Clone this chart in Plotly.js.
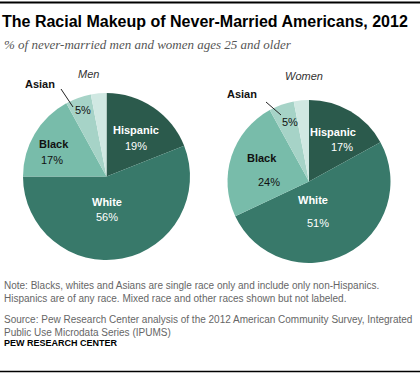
<!DOCTYPE html>
<html>
<head>
<meta charset="utf-8">
<script src="https://cdn.plot.ly/plotly-3.0.1.min.js"></script>
<style>
html,body{margin:0;padding:0;background:#fff;}
#chart{width:420px;height:376px;}
</style>
</head>
<body>
<div id="chart"></div>
<script>
// ---- data ----
const categories = ['Hispanic', 'White', 'Black', 'Asian', 'Other'];
const menValues = [19, 56, 17, 5, 3];
const womenValues = [17, 51, 24, 5, 3];
const groupLabels = ['Men', 'Women'];
const sliceColors = ['#2b5a4c', '#38796a', '#78bcaa', '#a6d3c7', '#d0e8e2'];

const W = 420, H = 376;
const px = x => x / W;
const py = y => 1 - y / H;

const sans = 'Arial, Liberation Sans, sans-serif';

function pie(values, name, x0, x1, y0, y1) {
  return {
    type: 'pie', name: name, labels: categories, values: values,
    sort: false, direction: 'clockwise', rotation: 0,
    marker: {colors: sliceColors, line: {width: 0}},
    textinfo: 'none', hoverinfo: 'label+percent',
    showlegend: false,
    domain: {x: [px(x0), px(x1)], y: [py(y1), py(y0)]}
  };
}

const data = [
  pie(menValues, groupLabels[0], 23, 190, 93, 260),
  pie(womenValues, groupLabels[1], 227.5, 390.5, 100, 263)
];

function ann(text, x, y, opts) {
  return Object.assign({
    text: text, x: px(x), y: py(y), xref: 'paper', yref: 'paper',
    xanchor: 'center', yanchor: 'middle', showarrow: false,
    font: {family: sans, size: 11, color: '#ffffff'}
  }, opts || {});
}
const bold = s => '<b>' + s + '</b>';
const pct = v => v + '%';
const dark = {family: sans, size: 11, color: '#111111'};

const annotations = [
  // subtitle
  ann('<i>% of never-married men and women ages 25 and older</i>', 2, 45,
      {xanchor: 'left', font: {family: 'Liberation Serif, Georgia, serif', size: 13, color: '#555555'}}),
  // group labels
  ann('<i>' + groupLabels[0] + '</i>', 88, 74, {font: {family: sans, size: 11, color: '#333333'}}),
  ann('<i>' + groupLabels[1] + '</i>', 304, 76, {font: {family: sans, size: 11, color: '#333333'}}),
  // Men
  ann(bold(categories[0]), 136, 130),
  ann(pct(menValues[0]), 136, 146),
  ann(bold(categories[1]), 107, 201.5),
  ann(pct(menValues[1]), 107, 216.5),
  ann(bold(categories[2]), 54, 144, {font: dark}),
  ann(pct(menValues[2]), 52, 160, {font: dark}),
  ann(bold(categories[3]), 40, 84, {font: dark}),
  ann(pct(menValues[3]), 83, 110, {font: dark}),
  // Women
  ann(bold(categories[0]), 333, 132),
  ann(pct(womenValues[0]), 342, 146.5),
  ann(bold(categories[1]), 313, 200),
  ann(pct(womenValues[1]), 318, 223),
  ann(bold(categories[2]), 262, 158, {font: dark}),
  ann(pct(womenValues[2]), 269, 182, {font: dark}),
  ann(bold(categories[3]), 242, 94, {font: dark}),
  ann(pct(womenValues[3]), 290, 122, {font: dark}),
  // notes
  ann('Note: Blacks, whites and Asians are single race only and include only non-Hispanics.<br>Hispanics are of any race. Mixed race and other races shown but not labeled.',
      2, 292, {xanchor: 'left', align: 'left', font: {family: sans, size: 10, color: '#666666'}}),
  ann('Source: Pew Research Center analysis of the 2012 American Community Survey, Integrated<br>Public Use Microdata Series (IPUMS)',
      2, 325.5, {xanchor: 'left', align: 'left', font: {family: sans, size: 10, color: '#666666'}}),
  ann('<b>PEW RESEARCH CENTER</b>', 2, 343, {xanchor: 'left', font: {family: sans, size: 9, color: '#000000'}})
];

const shapes = [
  {type: 'line', xref: 'paper', yref: 'paper', x0: 0, x1: 1, y0: py(2.5), y1: py(2.5), line: {color: '#000', width: 2}},
  {type: 'line', xref: 'paper', yref: 'paper', x0: 0, x1: 1, y0: py(371.5), y1: py(371.5), line: {color: '#000', width: 1.5}},
  {type: 'line', xref: 'paper', yref: 'paper', x0: px(61), x1: px(73), y0: py(89), y1: py(107), line: {color: '#222', width: 1}},
  {type: 'line', xref: 'paper', yref: 'paper', x0: px(266), x1: px(281), y0: py(102), y1: py(115), line: {color: '#222', width: 1}}
];

const layout = {
  width: W, height: H,
  margin: {l: 0, r: 0, t: 0, b: 0},
  paper_bgcolor: '#ffffff', plot_bgcolor: '#ffffff',
  title: {
    text: '<b>The Racial Makeup of Never-Married Americans, 2012</b>',
    x: px(2), xanchor: 'left', xref: 'paper',
    y: py(21), yanchor: 'middle', yref: 'paper',
    font: {family: sans, size: 16, color: '#000000'}
  },
  annotations: annotations,
  shapes: shapes
};

Plotly.newPlot('chart', data, layout, {displayModeBar: false, staticPlot: true});
</script>
</body>
</html>
